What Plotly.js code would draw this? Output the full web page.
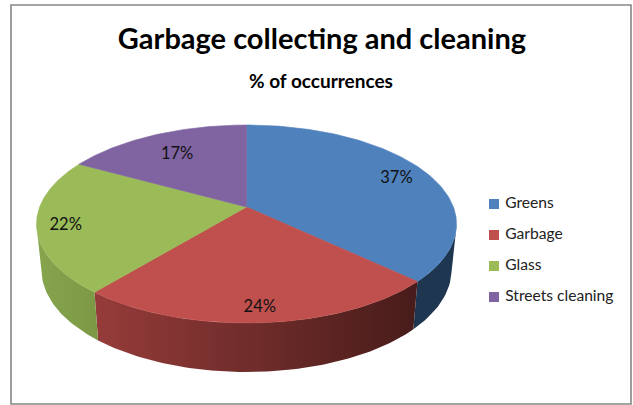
<!DOCTYPE html>
<html>
<head>
<meta charset="utf-8">
<script src="https://cdn.plot.ly/plotly-3.0.1.min.js"></script>
<style>html,body{margin:0;padding:0;background:#fff}</style>
</head>
<body>
<div id="chart" style="width:633px;height:405px"></div>
<script>
const categories = ['Greens', 'Garbage', 'Glass', 'Streets cleaning'];
const shares = [37, 24, 22, 17];
const topColors = ['#4F81BD', '#C0504D', '#9BBB59', '#8064A2'];
const wallStops = [
  ['#1F3650', '#1F3650'],
  ['#963C3A', '#471C1A'],
  ['#86A54D', '#7C9845'],
  ['#5E4A78', '#5E4A78']
];
const labelRadii = [0.835, 0.87, 0.865, 0.73];

const FONT = 'Lato, Carlito, sans-serif';

// Tilted disc seen in perspective: upper rim, lower rim and the shift of the hub.
const rimTop = {cx: 246.5, cy: 224, rx: 210, ry: 99};
const rimBottom = {cx: 246.5, cy: 270, rx: 205, ry: 102};
const hubShift = -0.172;

// Projective map of the unit disc onto itself that moves the hub off-centre.
function tilt(x, y) {
  const d = 1 + hubShift * y;
  return [x * Math.sqrt(1 - hubShift * hubShift) / d, (y + hubShift) / d];
}
function place(rim, p) {
  return [rim.cx + rim.rx * p[0], rim.cy + rim.ry * p[1]];
}
// Clockwise from twelve o'clock, in share percent.
function discPoint(pct, r) {
  const a = pct / 100 * 2 * Math.PI;
  return tilt(r * Math.sin(a), -r * Math.cos(a));
}

const traces = [];
let start = 0;
const total = shares.reduce((s, v) => s + v, 0);
const sliceRanges = shares.map(v => {
  const p = v / total * 100;
  const range = [start, start + p];
  start += p;
  return range;
});

// Outer walls first, so the top faces sit over them.
sliceRanges.forEach((range, i) => {
  const rim = [];
  const steps = 80;
  for (let k = 0; k <= steps; k++) {
    const p = discPoint(range[0] + (range[1] - range[0]) * k / steps, 1);
    if (p[1] >= 0) rim.push(p);
  }
  if (rim.length < 2) return;
  const up = rim.map(p => place(rimTop, p));
  const down = rim.map(p => place(rimBottom, p)).reverse();
  const poly = up.concat(down);
  const xs = poly.map(p => p[0]);
  traces.push({
    type: 'scatter', mode: 'lines', x: xs, y: poly.map(p => p[1]),
    fill: 'toself', hoverinfo: 'skip', showlegend: false,
    line: {width: 0},
    fillgradient: {
      type: 'horizontal',
      colorscale: [[0, wallStops[i][0]], [1, wallStops[i][1]]],
      start: Math.min(...xs), stop: Math.max(...xs)
    }
  });
});

// Top faces.
sliceRanges.forEach((range, i) => {
  const hub = place(rimTop, tilt(0, 0));
  const poly = [hub];
  const steps = 120;
  for (let k = 0; k <= steps; k++) {
    poly.push(place(rimTop, discPoint(range[0] + (range[1] - range[0]) * k / steps, 1)));
  }
  poly.push(hub);
  traces.push({
    type: 'scatter', mode: 'lines', name: categories[i],
    x: poly.map(p => p[0]), y: poly.map(p => p[1]),
    fill: 'toself', fillcolor: topColors[i], showlegend: false,
    line: {width: 0.6, color: topColors[i]},
    hoverinfo: 'name'
  });
});

// Percentage labels on the top faces, nudged down so the digits sit on their anchor.
const labelDrop = 2.5;
const labelPts = sliceRanges.map((range, i) =>
  place(rimTop, discPoint((range[0] + range[1]) / 2, labelRadii[i])));
traces.push({
  type: 'scatter', mode: 'text',
  x: labelPts.map(p => p[0]), y: labelPts.map(p => p[1] + labelDrop),
  text: shares.map(v => v + '%'),
  textposition: 'middle center',
  textfont: {family: FONT, size: 16.5, color: '#111'},
  hoverinfo: 'skip', showlegend: false
});

// Key on the right: square swatch followed by its category name.
const keyX = 494, keyTop = 204, keyStep = 31;
traces.push({
  type: 'scatter', mode: 'markers+text',
  x: categories.map(() => keyX),
  y: categories.map((c, i) => keyTop + keyStep * i),
  text: categories.map(c => ' ' + c),
  textposition: 'middle right',
  textfont: {family: FONT, size: 15.6, color: '#222'},
  marker: {symbol: 'square', size: 10, color: topColors, line: {width: 0}},
  cliponaxis: false, hoverinfo: 'skip', showlegend: false
});

const layout = {
  width: 633, height: 405,
  margin: {l: 0, r: 0, t: 0, b: 0},
  paper_bgcolor: '#fff', plot_bgcolor: '#fff',
  showlegend: false,
  xaxis: {range: [0, 633], visible: false, fixedrange: true},
  yaxis: {range: [405, 0], visible: false, fixedrange: true},
  title: {
    text: '<b>Garbage collecting and cleaning</b>',
    x: 322 / 633, xanchor: 'center', xref: 'paper',
    y: 1 - 39 / 405, yanchor: 'middle', yref: 'paper',
    font: {family: FONT, size: 29, color: '#000'}
  },
  annotations: [{
    text: '<b>% of occurrences</b>',
    xref: 'paper', yref: 'paper',
    x: 321 / 633, y: 1 - 80 / 405, xanchor: 'center', yanchor: 'middle',
    showarrow: false,
    font: {family: FONT, size: 19, color: '#000'}
  }],
  shapes: [{
    type: 'rect', xref: 'x', yref: 'y',
    x0: 11, x1: 631, y0: 5, y1: 404,
    line: {color: '#868686', width: 1.6}, fillcolor: 'rgba(0,0,0,0)', layer: 'below'
  }]
};

Plotly.newPlot('chart', traces, layout, {displayModeBar: false, responsive: false});
</script>
</body>
</html>
